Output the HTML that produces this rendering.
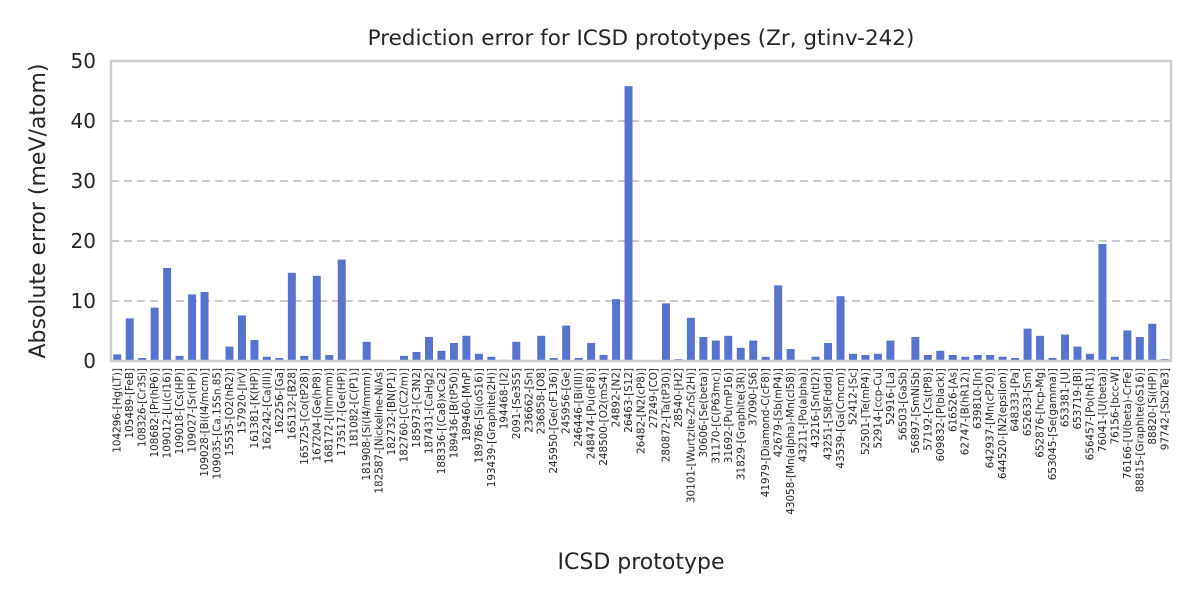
<!DOCTYPE html>
<html><head><meta charset="utf-8"><style>
html,body{margin:0;padding:0;background:#fff;}
svg{display:block;font-family:"DejaVu Sans","Liberation Sans",sans-serif;}
</style></head><body>
<svg id="chart" width="1200" height="600" viewBox="0 0 1200 600" xmlns="http://www.w3.org/2000/svg">
<text x="641" y="45" text-anchor="middle" font-size="21.5" fill="#262626">Prediction error for ICSD prototypes (Zr, gtinv-242)</text>
<text transform="translate(45,211) rotate(-90)" text-anchor="middle" font-size="22" fill="#262626">Absolute error (meV/atom)</text>
<text x="641" y="569" text-anchor="middle" font-size="22" fill="#262626">ICSD prototype</text>
<g id="grid"></g><g id="bars"></g><g id="yticks"></g><g id="xticks"></g>
<rect x="111" y="61" width="1060" height="300" fill="none" stroke="#cccccc" stroke-width="2.5"/>
</svg>
<script>
const categories = ["104296-[Hg(LT)]","105489-[FeB]","108326-[Cr3Si]","108682-[Pr(hP6)]","109012-[Li(cI16)]","109018-[Cs(HP)]","109027-[Sr(HP)]","109028-[Bi(I4/mcm)]","109035-[Ca.15Sn.85]","15535-[O2(hR2)]","157920-[IrV]","161381-[K(HP)]","162242-[Ca(III)]","162256-[Ga]","165132-[B28]","165725-[Co(tP28)]","167204-[Ge(hP8)]","168172-[I(Immm)]","173517-[Ge(HP)]","181082-[C(P1)]","181908-[Si(I4/mmm)]","182587-[Nickeline-NiAs]","182732-[BN(P1)]","182760-[C(C2/m)]","185973-[C3N2]","187431-[CaHg2]","188336-[(Ca8)xCa2]","189436-[B(tP50)]","189460-[MnP]","189786-[Si(oS16)]","193439-[Graphite(2H)]","194468-[I2]","2091-[Se3S5]","236662-[Sn]","236858-[O8]","245950-[Ge(cF136)]","245956-[Ge]","246446-[Bi(III)]","248474-[Pu(oF8)]","248500-[O2(mS4)]","24892-[N2]","26463-[S12]","26482-[N2(cP8)]","27249-[CO]","280872-[Ta(tP30)]","28540-[H2]","30101-[Wurtzite-ZnS(2H)]","30606-[Se(beta)]","31170-[C(P63mc)]","31692-[Pu(mP16)]","31829-[Graphite(3R)]","37090-[S6]","41979-[Diamond-C(cF8)]","42679-[Sb(mP4)]","43058-[Mn(alpha)-Mn(cI58)]","43211-[Po(alpha)]","43216-[Sn(tI2)]","43251-[S8(Fddd)]","43539-[Ga(Cmcm)]","52412-[Sc]","52501-[Te(mP4)]","52914-[ccp-Cu]","52916-[La]","56503-[GaSb]","56897-[SmNiSb]","57192-[Cs(tP8)]","609832-[P(black)]","616526-[As]","62747-[B(hR12)]","639810-[In]","642937-[Mn(cP20)]","644520-[N2(epsilon)]","648333-[Pa]","652633-[Sm]","652876-[hcp-Mg]","653045-[Se(gamma)]","653381-[U]","653719-[Bi]","656457-[Po(hR1)]","76041-[U(beta)]","76156-[bcc-W]","76166-[U(beta)-CrFe]","88815-[Graphite(oS16)]","88820-[Si(HP)]","97742-[Sb2Te3]"];
const errors = [1.1,7.1,0.5,8.9,15.5,0.85,11.1,11.5,0,2.4,7.6,3.5,0.7,0.5,14.7,0.85,14.2,1.0,16.9,0,3.2,0,0,0.85,1.5,4.0,1.7,3.0,4.2,1.2,0.7,0.2,3.2,0,4.2,0.5,5.9,0.5,3.0,1.0,10.3,45.8,0,0,9.6,0.3,7.2,4.0,3.4,4.2,2.2,3.4,0.7,12.6,2.0,0,0.7,3.0,10.8,1.2,1.0,1.2,3.4,0.15,4.0,1.0,1.7,1.0,0.7,1.0,1.0,0.7,0.5,5.4,4.2,0.5,4.4,2.4,1.2,19.5,0.7,5.1,4.0,6.2,0.3];
const yTicks = [0,10,20,30,40,50];
const NS="http://www.w3.org/2000/svg";
const X0=111,X1=1171,Y0=361,Y1=61,YMAX=50;
const band=(X1-X0)/categories.length;
function xScale(i){return X0+band*(i+0.5);}
function yScale(v){return Y0-(v/YMAX)*(Y0-Y1);}
function mk(tag,attrs,parent){const e=document.createElementNS(NS,tag);for(const k in attrs)e.setAttribute(k,attrs[k]);parent.appendChild(e);return e;}
const grid=document.getElementById('grid'),bars=document.getElementById('bars'),yt=document.getElementById('yticks'),xt=document.getElementById('xticks');
yTicks.forEach(t=>{
  const y=yScale(t);
  if(t>0&&t<YMAX){const l=mk('line',{x1:X0,x2:X1,y1:y,y2:y,stroke:'#cccccc','stroke-width':2,'stroke-dasharray':'8,5'},grid);
  
  }
  const tx=mk('text',{x:X0-15,y:y+7,'text-anchor':'end','font-size':20,fill:'#262626'},yt);
  tx.textContent=t;
  
  
});
const bw=band*0.64;
errors.forEach((v,i)=>{
  const y=yScale(v);
  const r=mk('rect',{x:xScale(i)-bw/2,y:y,width:bw,height:Math.max(0,Y0-y),fill:'#5673d0'},bars);
  
  
});
categories.forEach((c,i)=>{
  const x=xScale(i)+3.5;
  const t=mk('text',{transform:'translate('+x+',368) rotate(-90)','text-anchor':'end','font-size':10.4,fill:'#262626'},xt);
  t.textContent=c;
  
  
});
</script>
</body></html>
